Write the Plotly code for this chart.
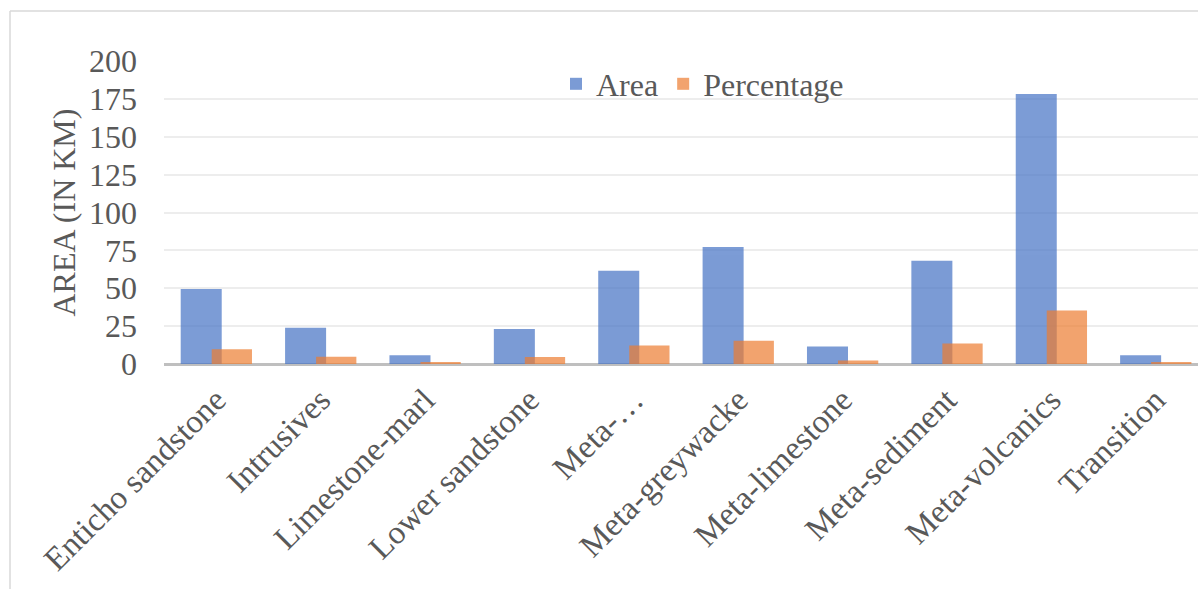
import plotly.graph_objects as go

categories = ["Enticho sandstone", "Intrusives", "Limestone-marl", "Lower sandstone",
              "Meta-…", "Meta-greywacke", "Meta-limestone", "Meta-sediment",
              "Meta-volcanics", "Transition"]
area = [49.5, 24.0, 5.7, 23.1, 61.6, 77.3, 11.5, 68.2, 178.3, 5.8]
percentage = [9.8, 4.8, 1.1, 4.6, 12.2, 15.3, 2.3, 13.5, 35.3, 1.2]
y_ticks = [0, 25, 50, 75, 100, 125, 150, 175, 200]

FONT = "'Times New Roman', 'Liberation Serif', Tinos, serif"
GREY = "#595959"
W, H = 1198, 589
L, T, B = 164, 61, 225
PW = W - L
PH = H - T - B


def px(x):
    return (x - L) / PW


def py(y):
    return (H - B - y) / PH


fig = go.Figure()
fig.add_trace(go.Bar(x=categories, y=area, name="Area",
                     marker=dict(color="#4472C4", line=dict(width=0)), opacity=0.7,
                     offset=-0.340, width=0.393))
fig.add_trace(go.Bar(x=categories, y=percentage, name="Percentage",
                     marker=dict(color="#ED7D31", line=dict(width=0)), opacity=0.7,
                     offset=-0.043, width=0.386))

fig.update_layout(
    width=W, height=H,
    margin=dict(l=L, r=0, t=T, b=B, pad=0),
    paper_bgcolor="white", plot_bgcolor="white",
    barmode="overlay",
    font=dict(family=FONT, size=32, color=GREY),
    showlegend=True,
    legend=dict(orientation="h", x=px(556), xanchor="left", y=py(84), yanchor="middle",
                bgcolor="rgba(0,0,0,0)", font=dict(family=FONT, size=32, color=GREY),
                itemclick=False),
    xaxis=dict(type="category", range=[-0.5, 9.5 - (1207.8 - W) / 104.4],
               tickangle=-45, showgrid=False, ticks="", showline=False,
               ticklabelstandoff=9,
               tickfont=dict(family=FONT, size=33, color=GREY), automargin=False),
    yaxis=dict(range=[0, 200], tickvals=y_ticks, showgrid=True, gridcolor="#ededed",
               gridwidth=2, zeroline=True, zerolinecolor="#bfbfbf", zerolinewidth=3,
               ticks="", showline=False, ticklabelstandoff=26,
               tickfont=dict(family=FONT, size=32, color=GREY), automargin=False),
    annotations=[dict(text="AREA (IN KM)", xref="paper", yref="paper", x=px(63), y=0.5,
                      xanchor="center", yanchor="middle", textangle=-90, showarrow=False,
                      font=dict(family=FONT, size=32, color=GREY))],
    shapes=[
        dict(type="line", xref="paper", yref="paper", x0=px(10), x1=px(10), y0=py(11), y1=py(H + 5),
             line=dict(color="#d9d9d9", width=1.5)),
        dict(type="line", xref="paper", yref="paper", x0=px(10), x1=px(W + 5), y0=py(11), y1=py(11),
             line=dict(color="#d9d9d9", width=1.5)),
    ],
)

fig.write_html("out.html")
